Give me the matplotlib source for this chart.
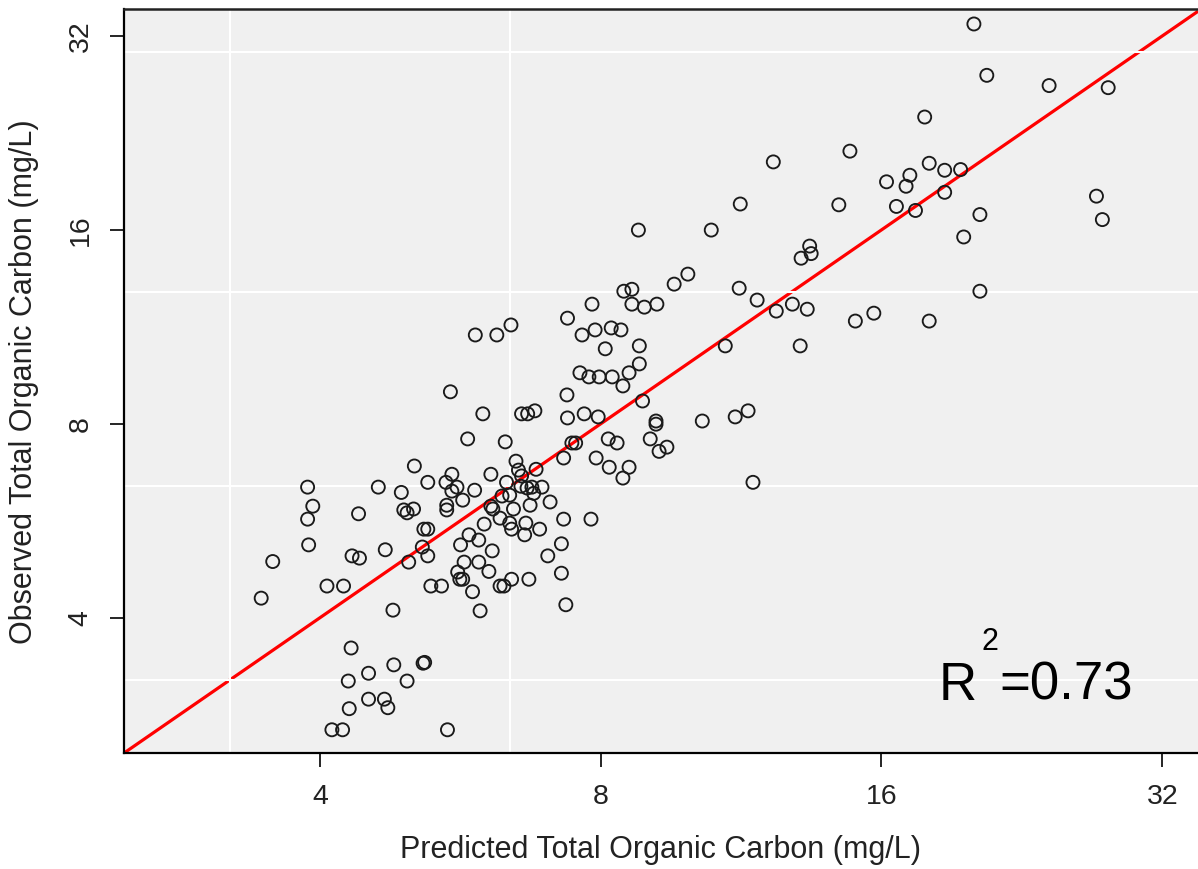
import matplotlib
matplotlib.use("Agg")
import matplotlib.pyplot as plt

plt.rcParams['font.family'] = ['Liberation Sans', 'DejaVu Sans']

# predicted vs observed total organic carbon (mg/L)
predicted = [
    3.88, 3.93, 3.88, 3.89, 3.56, 3.46, 4.40, 4.33, 4.41, 4.07, 4.24, 4.70, 4.79,
    4.32, 4.51, 4.80, 4.29, 4.51, 4.69, 4.73, 4.30, 4.12, 4.23, 4.62, 4.89, 4.92,
    4.96, 5.04, 4.98, 5.05, 4.96, 5.16, 5.18, 5.48,
    5.52, 5.98, 6.58, 6.68, 6.80, 7.36, 7.37, 5.76, 6.32, 7.30, 6.49, 6.53, 6.82,
    5.22, 5.46, 5.54, 5.61, 5.54, 6.10, 5.86, 5.69, 6.34, 6.57, 6.67, 6.75, 6.92,
    6.78, 7.06, 6.39, 6.27, 6.10, 6.13, 6.45, 6.72, 5.47, 5.47, 6.00, 6.24, 6.39,
    6.42, 6.65, 6.63, 6.88, 7.30, 5.17, 5.22, 5.15, 5.22, 5.66, 5.78, 5.92, 6.12,
    5.71, 5.92, 6.07, 5.62, 5.65, 5.69, 5.26, 5.40, 5.83, 5.94, 6.24, 6.30, 6.42,
    6.70, 7.02, 7.26, 7.26, 7.34, 5.87, 6.19, 6.41, 7.37, 7.45, 7.52, 6.58,
    9.92, 9.59, 8.47, 8.64, 11.26, 7.83, 8.64, 8.91, 9.19, 11.77, 12.34, 12.84,
    13.32, 7.64, 7.89, 8.21, 8.41, 8.09, 8.80, 10.88, 13.09, 8.80, 7.60, 7.77,
    7.97, 8.23, 8.58, 8.45, 8.87, 7.68, 7.95, 9.17, 9.17, 10.28, 11.15, 11.51,
    8.15, 8.33, 9.04, 9.24, 9.42, 7.91, 8.17, 8.58, 8.45, 11.65, 7.81,
    8.78, 10.51, 11.29, 12.25, 20.1, 20.75, 24.2, 28.0, 17.8, 14.8, 18.0, 18.7,
    19.45, 17.16, 16.2, 17.0, 18.7, 14.4, 16.6, 17.4, 27.2, 27.6, 20.4, 19.6,
    13.4, 13.45, 13.12, 20.4, 15.0, 15.7, 18.0,
]
observed = [
    6.38, 5.96, 5.69, 5.19, 4.89, 4.29, 5.80, 4.99, 4.95, 4.48, 4.48, 5.10, 4.11,
    3.59, 3.28, 3.38, 3.19, 2.99, 2.99, 2.90, 2.89, 2.68, 2.68, 6.38, 6.26, 5.88,
    5.82, 5.90, 4.88, 6.88, 3.19, 3.40, 3.41, 2.68,
    8.97, 8.29, 8.29, 8.29, 8.38, 8.87, 8.17, 7.58, 7.50, 7.08, 7.00, 6.78, 6.80,
    6.49, 6.49, 6.68, 6.38, 6.29, 6.68, 6.31, 6.09, 6.49, 6.40, 6.36, 6.38, 6.38,
    6.24, 6.05, 6.20, 6.18, 5.96, 5.90, 5.90, 5.98, 5.98, 5.88, 5.59, 5.71, 5.61,
    5.49, 5.61, 5.38, 5.49, 5.69, 5.49, 5.49, 5.15, 4.99, 5.19, 5.38, 5.28, 5.08,
    4.88, 4.88, 4.72, 4.71, 4.59, 4.59, 4.48, 4.48, 4.39, 4.10, 4.48, 4.48, 4.59,
    4.59, 4.99, 5.21, 4.69, 4.19, 10.99, 10.99, 11.39, 11.67, 7.47, 7.47, 6.64,
    13.66, 13.18, 12.85, 12.94, 12.99, 12.27, 12.27, 12.14, 12.27, 12.45, 11.97, 12.27,
    12.05, 10.99, 11.19, 11.27, 11.19, 10.46, 10.57, 10.57, 10.57, 9.91, 9.60, 9.46,
    9.46, 9.46, 9.60, 9.16, 8.68, 8.29, 8.20, 8.08, 7.99, 8.08, 8.20, 8.38,
    7.58, 7.47, 7.58, 7.25, 7.36, 7.08, 6.85, 6.85, 6.59, 6.49, 5.69,
    15.99, 15.99, 17.55, 20.4, 33.4, 27.8, 26.8, 26.6, 23.95, 21.2, 20.3, 19.8,
    19.85, 19.45, 19.0, 18.7, 18.3, 17.5, 17.4, 17.15, 18.05, 16.6, 16.9, 15.6,
    15.1, 14.7, 14.46, 12.85, 11.55, 11.88, 11.55,
]

tick_values = [4, 8, 16, 32]
tick_labels = ['4', '8', '16', '32']
grid_x = [3.2, 6.4]
grid_y = [3.2, 6.4, 12.8, 30.2]
r2_value = 0.73

fig = plt.figure(figsize=(11.98, 8.69), dpi=100)
ax = fig.add_axes([124 / 1198, 1 - 752.5 / 869, 1074 / 1198, 744 / 869])
ax.set_xscale('log', base=2)
ax.set_yscale('log', base=2)
ax.set_xlim(2.466, 34.95)
ax.set_ylim(2.471, 35.3)
ax.set_facecolor('#f0f0f0')

# 1:1 line
lims = ax.get_xlim()
ax.plot(lims, lims, color='#ff0000', lw=2.3, zorder=2, solid_capstyle='butt')

# white grid drawn over the line
for gx in grid_x:
    ax.axvline(gx, color='white', lw=1.5, zorder=2.5)
for gy in grid_y:
    ax.axhline(gy, color='white', lw=1.5, zorder=2.5)

ax.scatter(predicted, observed, s=88, facecolors='none', edgecolors='#1a1a1a',
           linewidths=1.35, zorder=3)

ax.set_xticks(tick_values)
ax.set_xticklabels(tick_labels)
ax.set_yticks(tick_values)
ax.set_yticklabels(tick_labels)
ax.minorticks_off()
ax.tick_params(axis='both', length=10, width=1.2, color='black',
               labelsize=20.5, labelcolor='#222222')
ax.tick_params(axis='x', pad=13)
ax.tick_params(axis='y', pad=12, labelrotation=90)
for lab in ax.get_yticklabels():
    lab.set_va('center')

for side in ['left', 'bottom']:
    ax.spines[side].set_linewidth(1.6)
    ax.spines[side].set_color('black')
ax.spines['top'].set_linewidth(1.8)
ax.spines['top'].set_color('#222222')
ax.spines['right'].set_visible(False)

ax.set_xlabel('Predicted Total Organic Carbon (mg/L)', fontsize=22, color='#222222')
ax.xaxis.set_label_coords(0.5, -0.131)
ax.xaxis.label.set_va('center')
ax.set_ylabel('Observed Total Organic Carbon (mg/L)', fontsize=22, color='#222222')
ax.yaxis.set_label_coords(-0.093, 0.498)
ax.yaxis.label.set_va('center')

# R squared annotation
ax.text(0.7942, 0.0706, 'R', transform=ax.transAxes, fontsize=38,
        ha='right', va='baseline', zorder=4)
ax.text(0.8063, 0.1378, '2', transform=ax.transAxes, fontsize=22,
        ha='center', va='baseline', zorder=4)
ax.text(0.9395, 0.0706, f'={r2_value:.2f}', transform=ax.transAxes, fontsize=38,
        ha='right', va='baseline', zorder=4)

fig.savefig('out.png', dpi=100)
